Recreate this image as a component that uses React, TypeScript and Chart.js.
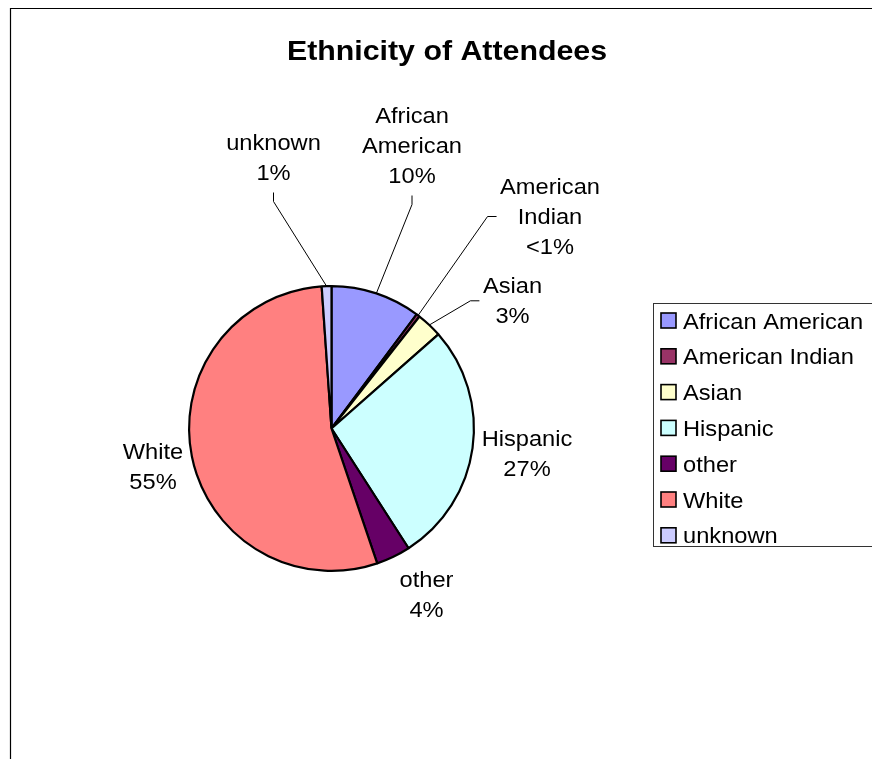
import { useEffect, useRef } from "react";
import { Chart, registerables } from "chart.js";

Chart.register(...registerables);

const chartTitle = "Ethnicity of Attendees";
const categories = ["African American", "American Indian", "Asian", "Hispanic", "other", "White", "unknown"];
const percentages = [10.2, 0.4, 2.9, 27.4, 3.9, 54.1, 1.1];
const valueLabels = ["10%", "<1%", "3%", "27%", "4%", "55%", "1%"];
const labelLines = [["African", "American"], ["American", "Indian"], ["Asian"], ["Hispanic"], ["other"], ["White"], ["unknown"]];
const sliceColors = ["#9999FF", "#993366", "#FFFFCC", "#CCFFFF", "#660066", "#FF8080", "#CCCCFF"];

// label placement: offset of the first baseline from the pie centre, and leader style
const labelPlacement = [
  { dx: 80.5, dy: -305.5, leader: "bottom" },
  { dx: 218.5, dy: -234.5, leader: "left" },
  { dx: 181, dy: -135.2, leader: "left" },
  { dx: 195.5, dy: 17.5, leader: "none" },
  { dx: 95, dy: 158, leader: "none" },
  { dx: -178.5, dy: 30, leader: "none" },
  { dx: -58, dy: -278.5, leader: "bottom" },
];

const FONT = '"Liberation Sans", Arial, sans-serif';
const SX = 1.075;
const LINE_H = 30;

function drawScaledText(ctx: CanvasRenderingContext2D, text: string, x: number, y: number, sx: number, align: CanvasTextAlign) {
  ctx.save();
  ctx.translate(x, y);
  ctx.scale(sx, 1);
  ctx.textAlign = align;
  ctx.textBaseline = "alphabetic";
  ctx.fillText(text, 0, 0);
  ctx.restore();
}

const decorPlugin = {
  id: "decor",
  afterDraw(chart: any) {
    const ctx: CanvasRenderingContext2D = chart.ctx;
    const W = chart.width;
    const H = chart.height;
    ctx.save();
    // frame
    ctx.strokeStyle = "#000";
    ctx.lineWidth = 1.2;
    ctx.beginPath();
    ctx.moveTo(10.5, H + 2);
    ctx.lineTo(10.5, 8.5);
    ctx.lineTo(W + 2, 8.5);
    ctx.stroke();

    // title
    ctx.fillStyle = "#000";
    ctx.font = `bold 28px ${FONT}`;
    drawScaledText(ctx, chartTitle, 447, 60, 1.083, "center");

    // data labels and leaders
    const meta = chart.getDatasetMeta(0);
    ctx.font = `22px ${FONT}`;
    meta.data.forEach((arc: any, i: number) => {
      const p = labelPlacement[i];
      const cx = arc.x + p.dx;
      const firstBase = arc.y + p.dy;
      const lines = [...labelLines[i], valueLabels[i]];
      let maxW = 0;
      lines.forEach((t, k) => {
        drawScaledText(ctx, t, cx, firstBase + k * LINE_H, SX, "center");
        maxW = Math.max(maxW, ctx.measureText(t).width * SX);
      });
      const lastBase = firstBase + (lines.length - 1) * LINE_H;
      const mid = (arc.startAngle + arc.endAngle) / 2;
      const ex = arc.x + Math.cos(mid) * arc.outerRadius;
      const ey = arc.y + Math.sin(mid) * arc.outerRadius;
      ctx.strokeStyle = "#000";
      ctx.lineWidth = 1;
      if (p.leader === "bottom") {
        const sy = lastBase + 12.5;
        ctx.beginPath();
        ctx.moveTo(cx, sy);
        ctx.lineTo(cx, sy + 9);
        ctx.lineTo(ex, ey);
        ctx.stroke();
      } else if (p.leader === "left") {
        const lx = cx - maxW / 2 - 3.5;
        const my = (firstBase - 20 + lastBase + 5) / 2;
        ctx.beginPath();
        ctx.moveTo(lx, my);
        ctx.lineTo(lx - 9, my);
        ctx.lineTo(ex, ey);
        ctx.stroke();
      }
    });

    // legend
    const lx = 653.5;
    const ly = 303.5;
    ctx.strokeStyle = "#333";
    ctx.lineWidth = 1;
    ctx.strokeRect(lx, ly, W - lx + 5, 243);
    const labels: string[] = chart.data.labels;
    const bg: string[] = chart.data.datasets[0].backgroundColor;
    labels.forEach((lab, i) => {
      const cy = 320.5 + i * 35.8;
      ctx.fillStyle = bg[i];
      ctx.fillRect(661, cy - 7.5, 15, 15);
      ctx.strokeStyle = "#000";
      ctx.lineWidth = 1.6;
      ctx.strokeRect(661, cy - 7.5, 15, 15);
      ctx.fillStyle = "#000";
      drawScaledText(ctx, lab, 683, cy + 8, SX, "left");
    });
    ctx.restore();
  },
};

export default function App() {
  const ref = useRef<HTMLCanvasElement | null>(null);
  useEffect(() => {
    if (!ref.current) return;
    const chart = new Chart(ref.current, {
      type: "pie",
      data: {
        labels: categories,
        datasets: [
          {
            data: percentages,
            backgroundColor: sliceColors,
            borderColor: "#000",
            borderWidth: 2.2,
          },
        ],
      },
      options: {
        responsive: false,
        animation: false,
        devicePixelRatio: 1,
        layout: { padding: { left: 188, top: 285, right: 397, bottom: 187 } },
        plugins: {
          legend: { display: false },
          tooltip: { enabled: false },
          title: { display: false },
        },
      },
      plugins: [decorPlugin],
    });
    return () => chart.destroy();
  }, []);
  return (
    <div style={{ position: "absolute", left: 0, top: 0, width: 872, height: 759, background: "#fff" }}>
      <canvas ref={ref} width={872} height={759} style={{ display: "block" }} />
    </div>
  );
}
